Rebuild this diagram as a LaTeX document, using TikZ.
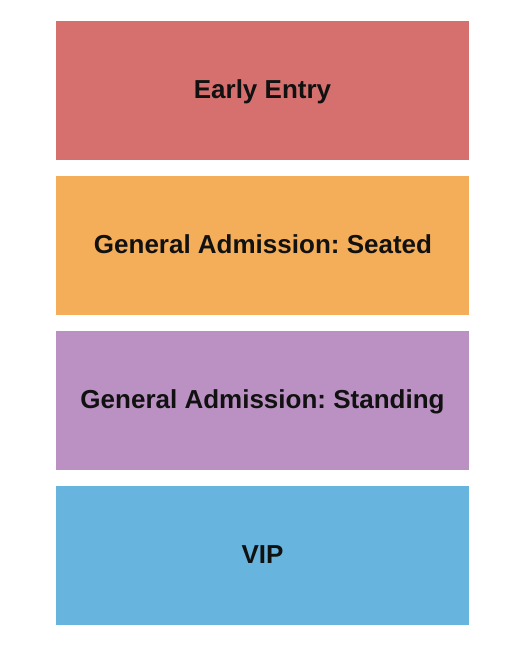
\documentclass[tikz,border=0pt]{standalone}
\usepackage{fontspec}
\setmainfont{Liberation Sans}
\frenchspacing
\definecolor{cred}{RGB}{214,112,111}
\definecolor{corange}{RGB}{244,173,89}
\definecolor{cpurple}{RGB}{186,145,194}
\definecolor{cblue}{RGB}{103,180,222}
\definecolor{ctext}{RGB}{17,17,17}
\tikzset{
  section/.style={minimum width=413pt, minimum height=139pt, inner sep=0pt, draw=none,
    anchor=north west},
  seclabel/.style={inner sep=0pt, anchor=base,
    font=\fontsize{26}{30}\selectfont\bfseries, text=ctext}
}
\begin{document}
\begin{tikzpicture}[x=1pt,y=-1pt]
\useasboundingbox (0,0) rectangle (525,650);
\fill[white] (0,0) rectangle (525,650);
\node[section, fill=cred] (early) at (56,21) {};
\node[section, fill=corange] (seated) at (56,176) {};
\node[section, fill=cpurple] (standing) at (56,331) {};
\node[section, fill=cblue] (vip) at (56,486) {};
\node[seclabel] (earlyl) at (262.5,98.8) {Early Entry};
\node[seclabel] (seatedl) at (263,253.3) {General Admission: Seated};
\node[seclabel] (standingl) at (262.5,408.3) {General Admission: Standing};
\node[seclabel] (vipl) at (262.5,563.3) {VIP};
\end{tikzpicture}
\end{document}
